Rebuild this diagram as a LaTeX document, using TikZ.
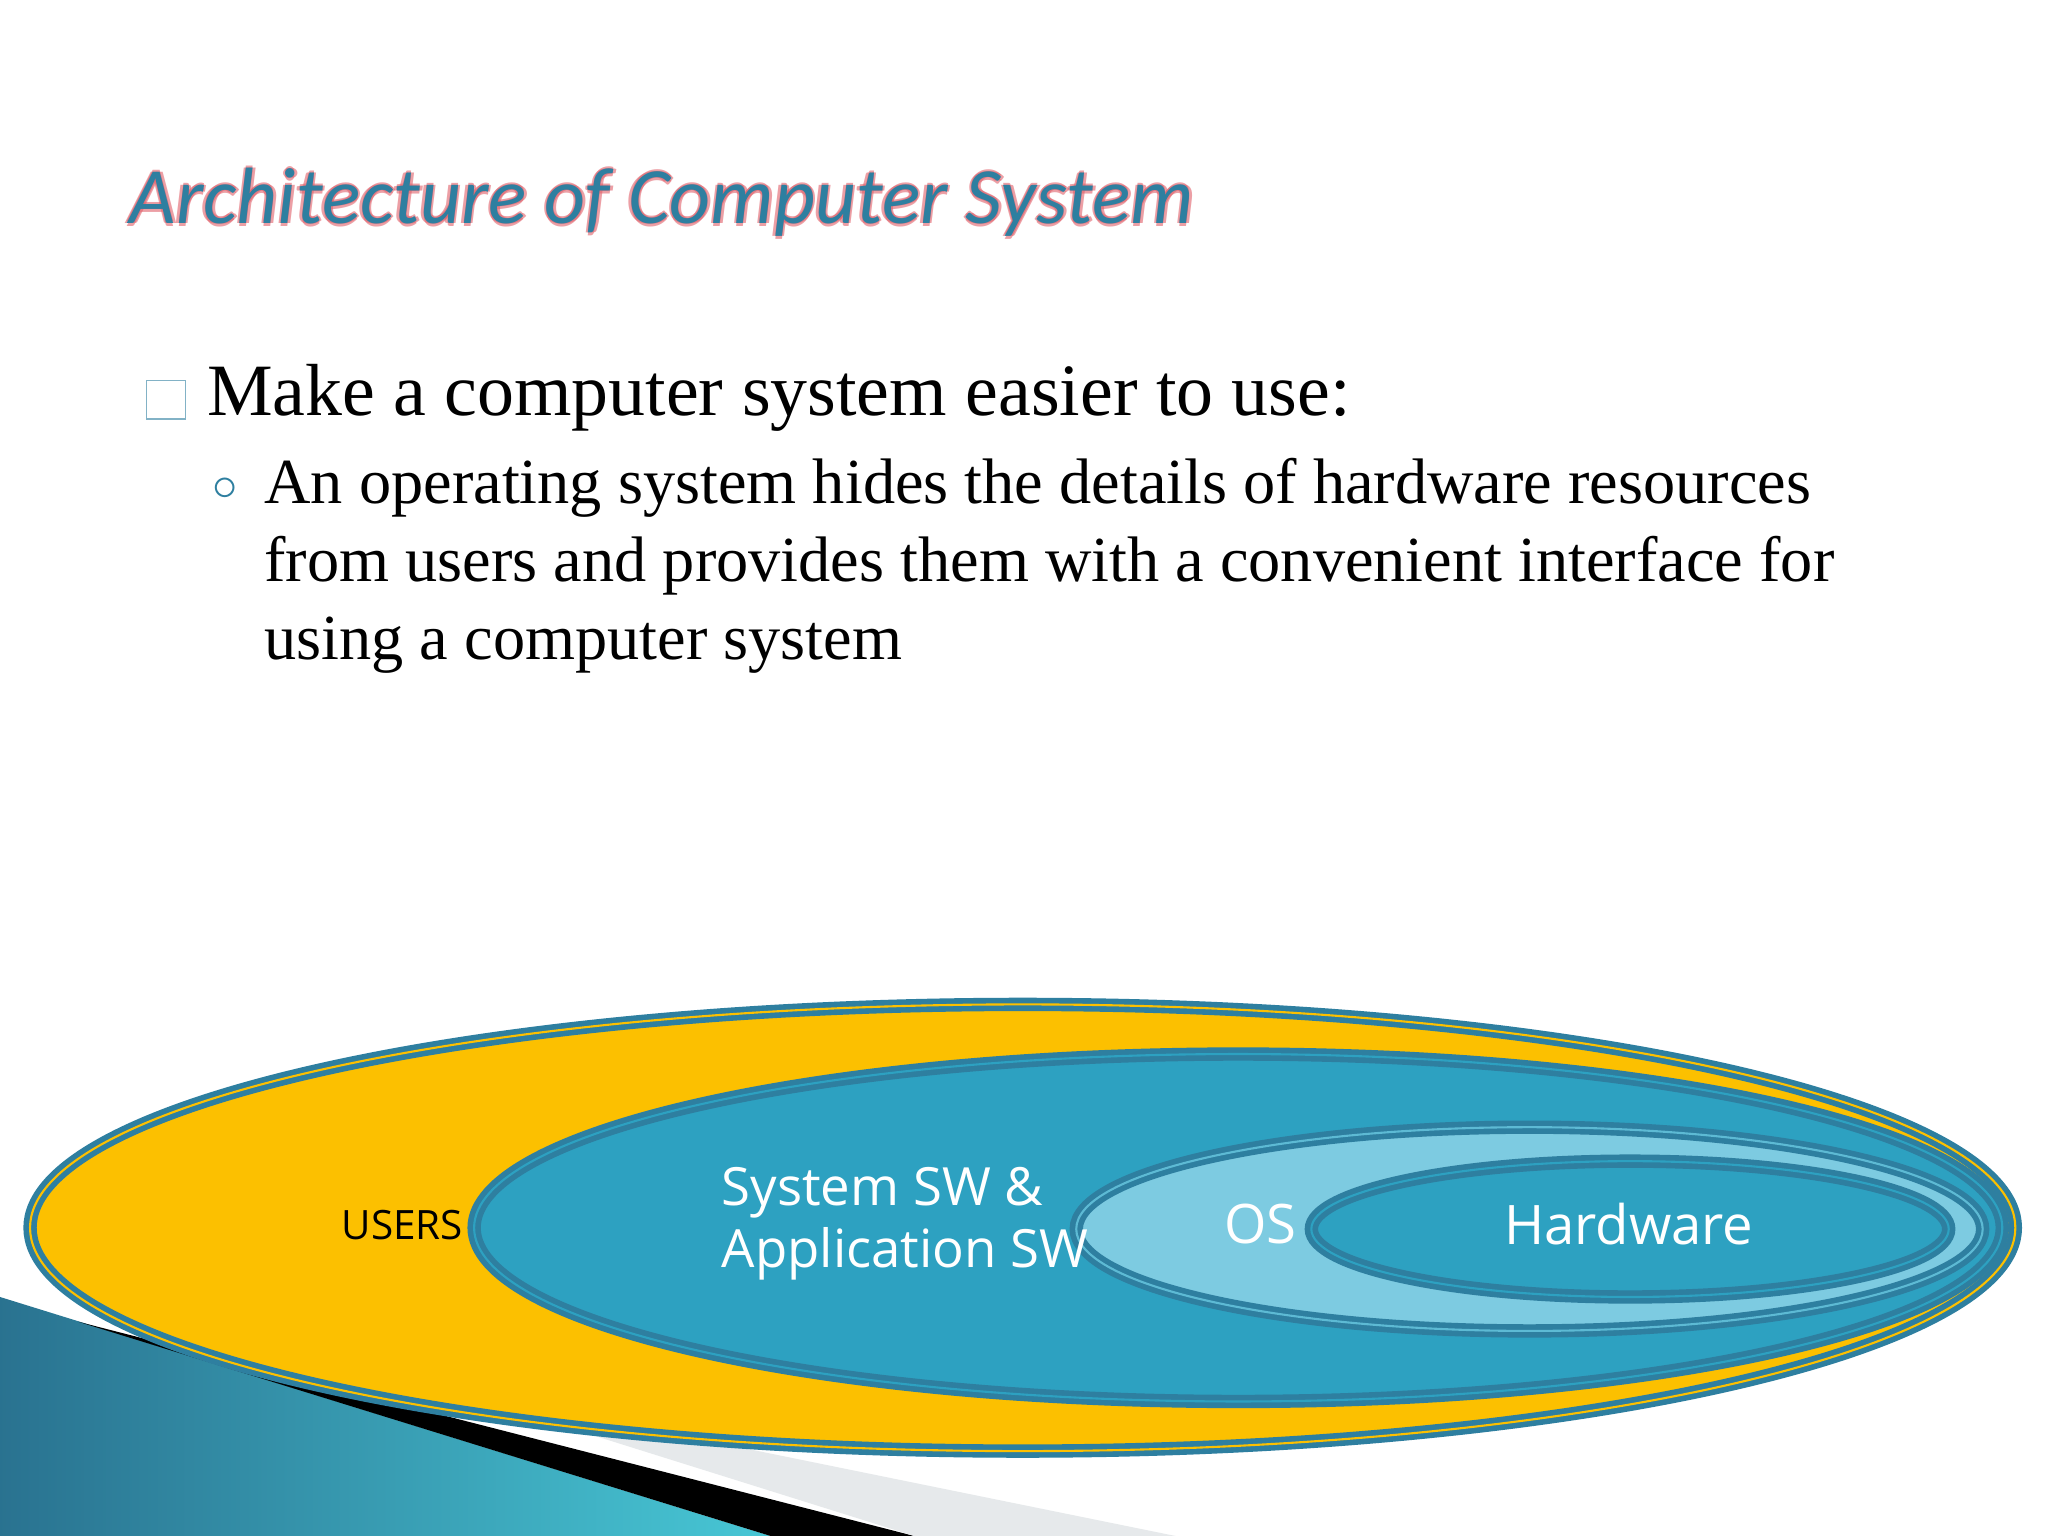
\documentclass[tikz,border=0pt]{standalone}
\usepackage{fontspec}
\setmainfont{Liberation Serif}
\newfontfamily\diag{Open Sans}
\newfontfamily\ttl{Carlito}
\usepackage{graphicx}
\definecolor{teal1}{HTML}{2E7FA0}
\definecolor{midb}{HTML}{2DA1C1}
\definecolor{lightb}{HTML}{7DCBE1}
\definecolor{gold}{HTML}{FCC000}
\definecolor{ttlred}{HTML}{E0606A}
\begin{document}
\begin{tikzpicture}[x=0.01306cm,y=-0.01306cm,
  lay/.style={draw=teal1,line width=1.6pt,double=gold,double distance=0.6pt},
  lbl/.style={font=\diag\fontsize{15.5}{18.5}\selectfont,text=white,inner sep=0pt}]
\useasboundingbox (0,0) rectangle (1568,1176);
\fill[white] (0,0) rectangle (1568,1176);
% swoosh
\shade[left color=teal1!90!black,right color=cyan!45!teal1!80] (0,993) -- (590,1176) -- (0,1176) -- cycle;
\fill[black] (60,1012) -- (700,1176) -- (590,1176) -- cycle;
\fill[cyan!10!gray!20] (330,1060) -- (900,1176) -- (700,1176) -- cycle;
% title
\foreach \dx/\dy in {-2/0,2/0,0/-2,0/2}{
\node[text=ttlred,anchor=west,opacity=0.6] at (90+\dx,155+\dy) {\resizebox{10.64cm}{!}{\ttl\itshape Architecture of Computer System}};}
\node[text=teal1,anchor=west] (title) at (90,155) {\resizebox{10.64cm}{!}{\ttl\itshape Architecture of Computer System}};
% bullets
\node[draw=teal1!60,minimum size=11pt,inner sep=0pt,line width=0.4pt] (b1) at (127,306) {};
\node[anchor=base west,inner sep=0pt,font=\fontsize{21}{24}\selectfont] (t1) at (158,318) {Make a computer system easier to use:};
\node[anchor=base,inner sep=0pt,text=teal1,font=\fontsize{14}{16}\selectfont] (b2) at (172,383) {$\circ$};
\node[anchor=north west,inner sep=0pt,font=\fontsize{18.3}{22.2}\selectfont,align=left] (t2) at (202,350) {An operating system hides the details of hardware resources\\from users and provides them with a convenient interface for\\using a computer system};
% ellipses
\draw[lay,fill=gold] (783,940) ellipse [x radius=760, y radius=171];
\draw[lay,double=midb,fill=midb] (948,940) ellipse [x radius=585, y radius=133];
\draw[lay,double=lightb!60!midb,fill=lightb] (1171,941) ellipse [x radius=347, y radius=78];
\draw[lay,double=midb,fill=midb] (1248,941) ellipse [x radius=244, y radius=52];
% labels
\node[font=\diag\fontsize{11.5}{14}\selectfont,inner sep=0pt] (users) at (308,938) {USERS};
\node[lbl,anchor=west,align=left,font=\diag\fontsize{15}{17.5}\selectfont] (app) at (552,937) {System SW \&\\Application SW};
\node[lbl] (os) at (965,937) {OS};
\node[lbl] (hw) at (1247,937) {Hardware};
\end{tikzpicture}
\end{document}
